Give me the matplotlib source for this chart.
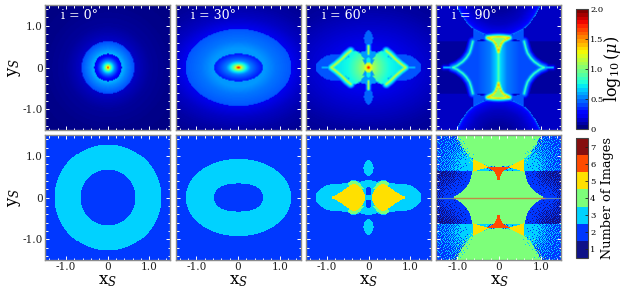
import numpy as np
import matplotlib
matplotlib.use('Agg')
import matplotlib.pyplot as plt
from matplotlib.colors import ListedColormap, BoundaryNorm, Normalize
from matplotlib.cm import ScalarMappable
from matplotlib.path import Path
from matplotlib.ticker import MultipleLocator, FixedLocator, FixedFormatter

plt.rcParams['font.family'] = ['DejaVu Serif']
plt.rcParams['mathtext.fontset'] = 'dejavuserif'

inclinations = [0, 30, 60, 90]
count_colors = ['#0f1288', '#0038ff', '#00d2ff', '#7dff7a', '#ffe000', '#ff4b00', '#860f0f']
count_ticks = [1, 2, 3, 4, 5, 6, 7]
mag_ticks = [0, 0.5, 1.0, 1.5, 2.0]
mag_tick_labels = ['0', '0.5', '1.0', '1.5', '2.0']

# region outlines, upper right quadrant only (x, y)
# i = 0 and 30 rings: semi axes
ring0_bottom = (0.67, 0.67, 1.28, 1.28)
ring30_bottom = (0.58, 0.33, 1.27, 0.93)
ring0_top = (0.33, 0.33, 0.635, 0.635)
ring30_top = (0.59, 0.335, 1.28, 0.93)

# i = 60
lobe60 = [(0, 0), (0, 0.43), (0.08, 0.40), (0.2, 0.37), (0.33, 0.42), (0.42, 0.40), (0.5, 0.335), (0.6, 0.33),
          (0.85, 0.325), (1.02, 0.28), (1.16, 0.2), (1.25, 0.11), (1.28, 0)]
drop60 = [(0, 0.9), (0.05, 0.87), (0.1, 0.79), (0.115, 0.7), (0.09, 0.6), (0.03, 0.52), (0, 0.5)]
green60 = [(0.1, 0.2), (0.2, 0.33), (0.3, 0.4), (0.42, 0.4), (0.5, 0.31), (0.45, 0.25), (0.3, 0.2)]
yellow60 = [(0.9, 0), (0.78, 0.05), (0.65, 0.13), (0.5, 0.24), (0.38, 0.31), (0.3, 0.31), (0.2, 0.25),
            (0.12, 0.15), (0.08, 0.05), (0.08, 0), (0.9, 0)]
dot60 = [(0, 0.03), (0.04, 0.06), (0.055, 0.13), (0.04, 0.21), (0, 0.25)]
cusp60 = [(0, 0.52), (0.012, 0.45), (0, 0.35)]
caustic60 = [(0.9, 0), (0.78, 0.09), (0.65, 0.2), (0.53, 0.32), (0.43, 0.40)]
streak60 = [(0, 0.52), (0, 0.33)]
tail60 = [(0.9, 0), (1.12, 0)]

# i = 90
dome90 = [(0, 0.74), (0.2, 0.75), (0.4, 0.82), (0.6, 0.92), (0.75, 1.05), (0.9, 1.27), (1.02, 1.5), (1.02, 1.6), (0, 1.6)]
hourglass90 = [(0, 0), (0, 0.63), (0.62, 0.63), (0.66, 0.47), (0.70, 0.35), (0.78, 0.23), (0.86, 0.145), (1.0, 0.045), (1.11, 0)]
yellow90 = [(0.24, 0.72), (0.4, 0.68), (0.6, 0.62), (0.6, 0.92), (0.4, 0.82), (0.24, 0.745)]
red90 = [(0, 0.37), (0.02, 0.46), (0.06, 0.57), (0.12, 0.65), (0.26, 0.72), (0.12, 0.735), (0, 0.74)]
hour_edge90 = [(0.62, 0.63), (0.66, 0.47), (0.70, 0.35), (0.78, 0.23), (0.86, 0.145), (1.0, 0.045), (1.11, 0)]
dome_edge90 = [(0, 0.74), (0.2, 0.75), (0.4, 0.82), (0.6, 0.92), (0.75, 1.05), (0.9, 1.27), (1.02, 1.5)]
red_edge90 = [(0, 0.37), (0.02, 0.46), (0.06, 0.57), (0.12, 0.65), (0.26, 0.72), (0.12, 0.735), (0, 0.74)]
axis90 = [(0, 0), (0, 0.4)]
tail90 = [(1.11, 0), (1.32, 0)]
line_x = [-1.1, 1.1]
line_y = [0, 0]
line_out_left = [-1.5, -1.1]
line_out_right = [1.1, 1.5]

# brightness profiles: distance or scaled radius -> log10(mu)
core_r = [0, 0.06, 0.15, 0.3, 0.5, 0.75, 1.0]
core0_v = [2.0, 1.5, 1.1, 0.75, 0.5, 0.3, 0.18]
core30_v = [2.0, 1.6, 1.1, 0.75, 0.5, 0.38, 0.28]
ring_r = [0.5, 0.7, 1.0]
ring0_v = [0.62, 0.52, 0.40]
ring30_v = [0.55, 0.48, 0.42]
out0_r = [1.0, 1.26, 1.6, 2.4, 3.2]
out0_v = [0.13, 0.09, 0.05, 0.02, 0.01]
out30_r = [1.0, 1.3, 1.6, 2.0]
out30_v = [0.2, 0.12, 0.07, 0.03]
bg60_r = [0, 0.5, 1.0, 1.5, 2.2]
bg60_v = [0.22, 0.2, 0.13, 0.06, 0.02]
center60_d = [0, 0.02, 0.05, 0.12, 0.25, 0.5, 0.9]
center60_v = [2.0, 1.7, 1.3, 1.1, 0.95, 0.75, 0.68]
edge_d = [0, 0.015, 0.035, 0.07, 0.15]
edge60_v = [1.25, 1.05, 0.8, 0.6, 0.0]
edge90_v = [0.95, 0.72, 0.52, 0.4, 0.0]
red_edge_v = [1.45, 1.2, 0.9, 0.5, 0.0]
streak_d = [0, 0.015, 0.035, 0.07, 0.15]
streak60_v = [1.4, 1.0, 0.6, 0.3, 0.0]
streak90_v = [0.95, 0.85, 0.7, 0.55, 0.0]
tail_v = [0.85, 0.55, 0.25, 0.1, 0.0]
axis_d = [0, 0.06, 0.2, 0.5]
axis_v = [0.78, 0.66, 0.5, 0.4]
dome_d = [0, 0.03, 0.1, 0.3, 0.6, 0.9]
dome_v = [0.6, 0.3, 0.2, 0.12, 0.06, 0.03]
yellow_v = 0.42
corner_v = 0.12
band_v = 0.06

# share of speckle in the i = 90 corners and bands, against distance
corner_d = [0, 0.3, 0.6, 0.9, 1.3]
corner_share = [1.0, 0.9, 0.42, 0.2, 0.05]
band_d = [0, 0.2, 0.4, 0.6, 0.9]
band_share = [1.0, 0.85, 0.45, 0.2, 0.08]
fleck_d = [0, 0.06, 0.14]
fleck_share = [0.5, 0.25, 0.0]

speckle = np.array([
    [0.62, 0.11, 0.87, 0.34, 0.71, 0.05, 0.48, 0.93, 0.27, 0.58, 0.16],
    [0.29, 0.78, 0.43, 0.96, 0.19, 0.55, 0.83, 0.09, 0.66, 0.38, 0.89],
    [0.91, 0.51, 0.07, 0.64, 0.37, 0.99, 0.24, 0.73, 0.45, 0.02, 0.59],
    [0.14, 0.69, 0.33, 0.82, 0.12, 0.47, 0.61, 0.18, 0.95, 0.31, 0.76],
    [0.85, 0.22, 0.97, 0.41, 0.68, 0.28, 0.88, 0.53, 0.08, 0.72, 0.39],
    [0.44, 0.57, 0.17, 0.75, 0.03, 0.81, 0.36, 0.98, 0.25, 0.63, 0.13],
    [0.01, 0.92, 0.67, 0.26, 0.54, 0.15, 0.74, 0.42, 0.84, 0.2, 0.49],
    [0.79, 0.35, 0.52, 0.1, 0.9, 0.6, 0.04, 0.65, 0.32, 0.94, 0.56],
    [0.23, 0.7, 0.06, 0.86, 0.4, 0.21, 0.77, 0.3, 0.5, 0.13, 0.8],
])

n = 124
xs = np.linspace(-1.5, 1.5, n)
X, Y = np.meshgrid(xs, xs)
AX, AY = np.abs(X), np.abs(Y)
pts = np.column_stack([AX.ravel(), AY.ravel()])
tile = np.tile(speckle, (n // speckle.shape[0] + 1, n // speckle.shape[1] + 1))[:n, :n]


def inside(poly):
    return Path(poly + [poly[0]]).contains_points(pts).reshape(X.shape)


def dist_to(curve):
    best = np.full(X.shape, 9.0)
    for (x0, y0), (x1, y1) in zip(curve[:-1], curve[1:]):
        dx, dy = x1 - x0, y1 - y0
        t = np.clip(((AX - x0) * dx + (AY - y0) * dy) / (dx * dx + dy * dy), 0, 1)
        best = np.minimum(best, np.hypot(AX - x0 - t * dx, AY - y0 - t * dy))
    return best


def oval(a, b, p=2.0):
    return ((AX / a) ** p + (AY / b) ** p) ** (1 / p)


def counts_ring(axes_ab, p=2.0):
    a0, b0, a1, b1 = axes_ab
    c = np.full(X.shape, 2)
    c[oval(a1, b1) < 1] = 3
    c[oval(a0, b0, p) < 1] = 2
    return c


def counts_60():
    c = np.full(X.shape, 2)
    c[inside(lobe60)] = 3
    c[inside(drop60)] = 3
    c[inside(green60)] = 4
    c[inside(yellow60)] = 5
    c[inside(dot60)] = 2
    c[inside(cusp60)] = 5
    return c


def regions_90():
    dome = inside(dome90)
    hour = inside(hourglass90)
    yellow = inside(yellow90)
    red = inside(red90)
    band = (AY < 0.63) & ~hour
    corner = (AY >= 0.63) & ~dome & ~yellow
    return dome, hour, yellow, red, band, corner


def counts_90():
    dome, hour, yellow, red, band, corner = regions_90()
    c = np.full(X.shape, 2)
    d = np.hypot(AX - 0.6, AY - 0.76)
    c[corner & (tile < np.interp(d, corner_d, corner_share))] = 3
    near = np.interp(dist_to(dome_edge90), fleck_d, fleck_share)
    c[corner & (tile < near * 0.5)] = 4
    c[dome] = 4
    c[dome & (AY > 1.0) & (tile < near * 0.4)] = 3
    c[band] = 1
    c[band & (tile < np.interp(dist_to(hour_edge90), band_d, band_share))] = 2
    c[hour] = 4
    c[yellow] = 5
    c[red] = 6
    return c


def field_ring(top_ab, core_v, ring_v, out_r, out_v):
    a0, b0, a1, b1 = top_ab
    e0, e1 = oval(a0, b0), oval(a1, b1)
    f = np.interp(e1, out_r, out_v)
    f[e1 < 1] = np.interp(e1, ring_r, ring_v)[e1 < 1]
    f[e0 < 1] = np.interp(e0, core_r, core_v)[e0 < 1]
    return f


def field_60():
    f = np.interp(oval(1.5, 1.0), bg60_r, bg60_v)
    lobe = inside(lobe60)
    f[lobe] = 0.42
    f[lobe & (AX < 0.5)] = 0.55
    f[inside(drop60)] = 0.45
    d0 = np.hypot(AX, AY)
    main = inside(yellow60) | inside(green60)
    f[main] = np.interp(d0, center60_d, center60_v)[main]
    f[inside(dot60)] = 0.72
    f[d0 < 0.12] = np.maximum(f, np.interp(d0, center60_d, center60_v))[d0 < 0.12]
    edge = np.interp(dist_to(caustic60), edge_d, edge60_v)
    f = np.maximum(f, edge)
    f = np.maximum(f, np.interp(dist_to(streak60), streak_d, streak60_v))
    f = np.maximum(f, np.interp(dist_to(tail60), streak_d, tail_v))
    return f


def field_90():
    dome, hour, yellow, red, band, corner = regions_90()
    f = np.full(X.shape, corner_v)
    f[band] = band_v
    f[corner] = corner_v
    f[hour] = np.interp(AX, axis_d, axis_v)[hour]
    f[yellow] = yellow_v
    f[dome] = np.interp(dist_to(dome_edge90), dome_d, dome_v)[dome]
    f[red] = 1.0
    f = np.maximum(f, np.interp(dist_to(hour_edge90), edge_d, edge90_v))
    f = np.maximum(f, np.interp(dist_to(axis90), streak_d, streak90_v))
    f = np.maximum(f, np.interp(dist_to(tail90), streak_d, tail_v))
    f = np.maximum(f, np.interp(dist_to(red_edge90), edge_d, red_edge_v))
    return f


top_fields = [field_ring(ring0_top, core0_v, ring0_v, out0_r, out0_v),
              field_ring(ring30_top, core30_v, ring30_v, out30_r, out30_v),
              field_60(), field_90()]
bottom_counts = [counts_ring(ring0_bottom), counts_ring(ring30_bottom, 2.3), counts_60(), counts_90()]

W, H = 623.0, 292.0
fig = plt.figure(figsize=(W / 100, H / 100), dpi=100)


def place(x0, y0, x1, y1):
    return fig.add_axes([x0 / W, 1 - y1 / H, (x1 - x0) / W, (y1 - y0) / H])


mag_cmap = plt.get_cmap('jet', 32)
mag_norm = Normalize(0, 2)
count_cmap = ListedColormap(count_colors)
count_norm = BoundaryNorm(np.arange(0.5, 8.5), 7)
col_x = [45, 175.5, 306, 436.5]
frame = '#8c8c8c'


def style(ax, left, bottom):
    ax.set_xlim(-1.5, 1.5)
    ax.set_ylim(-1.5, 1.5)
    for s in ax.spines.values():
        s.set_color(frame)
        s.set_linewidth(1.0)
    for a in (ax.xaxis, ax.yaxis):
        a.set_major_locator(FixedLocator([-1, 0, 1]))
        a.set_major_formatter(FixedFormatter(['-1.0', '0', '1.0']))
        a.set_minor_locator(MultipleLocator(0.2))
    ax.tick_params(which='both', direction='in', color='white', top=True, right=True, width=0.7,
                   labelleft=left, labelbottom=bottom, labelsize=7.6, pad=1.5, labelcolor='#222222')
    ax.tick_params(which='major', length=3)
    ax.tick_params(which='minor', length=1.8)
    if left:
        ax.set_ylabel(r'$\mathrm{y}_S$', fontsize=12, labelpad=0)
    if bottom:
        ax.set_xlabel(r'$\mathrm{x}_S$', fontsize=12, labelpad=0)


ext = [-1.5, 1.5, -1.5, 1.5]
for i in range(4):
    ax = place(col_x[i], 5, col_x[i] + 125, 130)
    ax.imshow(top_fields[i], origin='lower', extent=ext, cmap='jet', norm=mag_norm,
              interpolation='bilinear', aspect='auto')
    style(ax, i == 0, False)
    ax.text(-1.12, 1.24, f'i = {inclinations[i]}°', color='white', fontsize=9, va='center')

    ax = place(col_x[i], 135, col_x[i] + 125, 260)
    ax.imshow(bottom_counts[i], origin='lower', extent=ext, cmap=count_cmap, norm=count_norm,
              interpolation='nearest', aspect='auto')
    if i == 3:
        ax.plot(line_x, line_y, color='#c08c46', lw=1.0)
        ax.plot(line_out_left, line_y, color='#5a86b4', lw=0.8)
        ax.plot(line_out_right, line_y, color='#5a86b4', lw=0.8)
    style(ax, i == 0, True)

cax = place(576, 9, 588, 129)
cb = fig.colorbar(ScalarMappable(norm=mag_norm, cmap=mag_cmap), cax=cax)
cb.set_ticks(mag_ticks, labels=mag_tick_labels)
cb.ax.tick_params(labelsize=6, length=2, width=0.6, pad=1.5, direction='in', color='#222222')
cb.outline.set_edgecolor('#444444')
cb.outline.set_linewidth(0.8)
cb.set_label(r'$\log_{10}(\mu)$', fontsize=11.5, labelpad=-1)

cax = place(576, 138, 588, 258)
cb = fig.colorbar(ScalarMappable(norm=count_norm, cmap=count_cmap), cax=cax, spacing='proportional')
cb.set_ticks(count_ticks, labels=[str(v) for v in count_ticks])
cb.ax.minorticks_off()
cb.ax.tick_params(labelsize=6, length=2, width=0.6, pad=1.5, direction='in', color='#222222')
cb.outline.set_edgecolor('#444444')
cb.outline.set_linewidth(0.8)
cb.set_label('Number of Images', fontsize=9.3, labelpad=4)

fig.savefig('out.png', dpi=100)
